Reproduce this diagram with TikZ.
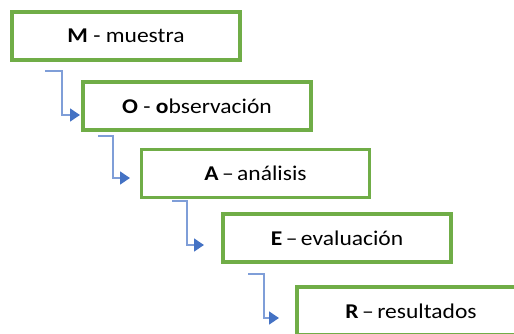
\documentclass[tikz,border=0pt]{standalone}
\usepackage{fontspec}
\setmainfont{Carlito}[FakeStretch=1.12]
\usetikzlibrary{arrows.meta}
\definecolor{boxgreen}{HTML}{70AD47}
\definecolor{linkblue}{HTML}{7F9ED8}
\definecolor{tipblue}{HTML}{4472C4}

\begin{document}
\begin{tikzpicture}[x=1pt, y=1pt]
  \tikzstyle{stage}=[rectangle, draw=boxgreen, line width=3.4pt, fill=white,
    minimum width=228pt, minimum height=48pt, inner sep=0pt,
    font=\fontsize{21}{25}\selectfont]
  \tikzstyle{link}=[draw=linkblue, line width=1.4pt,
    -{Triangle[length=10pt, width=13pt, color=tipblue]}]
  \clip (0,0) rectangle (514,333);
  \useasboundingbox (0,0) rectangle (514,333);

  \node[stage] (M) at (126,297) {\textbf{M} - muestra};
  \node[stage] (O) at (197,227) {\textbf{O} - \textbf{o}bservación};
  \node[stage] (A) at (255.5,159.5) {\textbf{A}\,--\,análisis};
  \node[stage] (E) at (337,95) {\textbf{E}\,--\,evaluación};
  \node[stage] (R) at (411,22) {\textbf{R}\,--\,resultados};

  \coordinate (m1) at (45,262);  \coordinate (o1) at (80,218);
  \coordinate (o2) at (98,197);  \coordinate (a1) at (130,155);
  \coordinate (a2) at (172,132); \coordinate (e1) at (204,88);
  \coordinate (e2) at (248,59);  \coordinate (r1) at (279,15);

  \draw[link] (m1) -- ++(17,0) |- (o1);
  \draw[link] (o2) -- ++(15,0) |- (a1);
  \draw[link] (a2) -- ++(15,0) |- (e1);
  \draw[link] (e2) -- ++(16,0) |- (r1);

\end{tikzpicture}
\end{document}
